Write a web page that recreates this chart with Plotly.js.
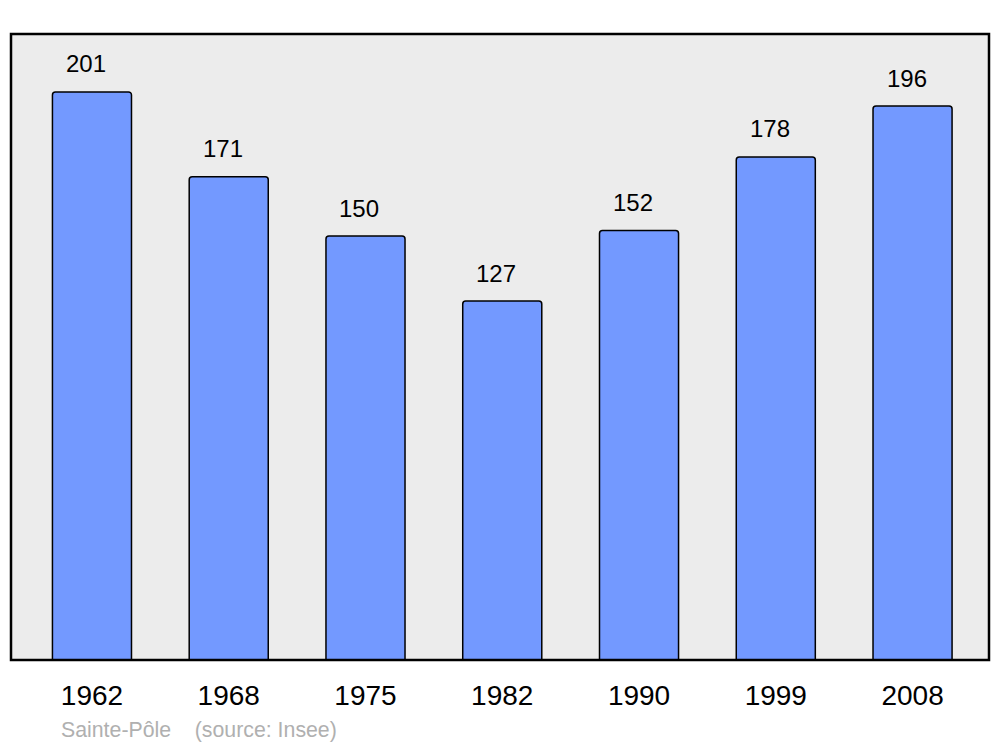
<!DOCTYPE html>
<html>
<head>
<meta charset="utf-8">
<script src="https://cdn.plot.ly/plotly-3.0.1.min.js"></script>
<style>html,body{margin:0;padding:0;background:#fff;}#chart{width:1000px;height:747px;}</style>
</head>
<body>
<div id="chart"></div>
<script>
var years = ["1962", "1968", "1975", "1982", "1990", "1999", "2008"];
var population = [201, 171, 150, 127, 152, 178, 196];
var sourceText = "Sainte-Pôle\u00a0\u00a0\u00a0\u00a0(source: Insee)";

var trace = {
  type: "bar",
  x: years,
  y: population,
  width: 0.578,
  marker: {color: "#7399ff", line: {color: "#000", width: 1.5}, cornerradius: 3},
  hoverinfo: "none"
};

var annotations = years.map(function (yr, i) {
  return {
    x: i, y: population[i], xref: "x", yref: "y",
    text: String(population[i]), showarrow: false,
    xanchor: "center", yanchor: "middle", xshift: -6, yshift: 28,
    font: {family: "Liberation Sans, Arial, sans-serif", size: 24, color: "#000"}
  };
});
annotations.push({
  x: 0.0491, y: -0.1118, xref: "paper", yref: "paper",
  text: sourceText, showarrow: false, xanchor: "left", yanchor: "middle",
  font: {family: "Liberation Sans, Arial, sans-serif", size: 21.3, color: "#b0b0b0"}
});

var layout = {
  width: 1000, height: 747,
  margin: {l: 11, r: 11, t: 34, b: 87, pad: 0},
  paper_bgcolor: "#ffffff",
  plot_bgcolor: "#ececec",
  showlegend: false,
  xaxis: {
    type: "category",
    range: [-0.592, 6.559],
    showgrid: false, zeroline: false, showline: false,
    ticks: "", ticklabelstandoff: 16,
    tickfont: {family: "Liberation Sans, Arial, sans-serif", size: 28, color: "#000"}
  },
  yaxis: {
    range: [0, 221.5],
    visible: false, showgrid: false, zeroline: false
  },
  annotations: annotations,
  shapes: [{
    type: "rect", xref: "paper", yref: "paper",
    x0: 0, x1: 1, y0: 0, y1: 1,
    line: {color: "#000", width: 2.5}, layer: "above"
  }]
};

Plotly.newPlot("chart", [trace], layout, {staticPlot: true, displayModeBar: false});
</script>
</body>
</html>
